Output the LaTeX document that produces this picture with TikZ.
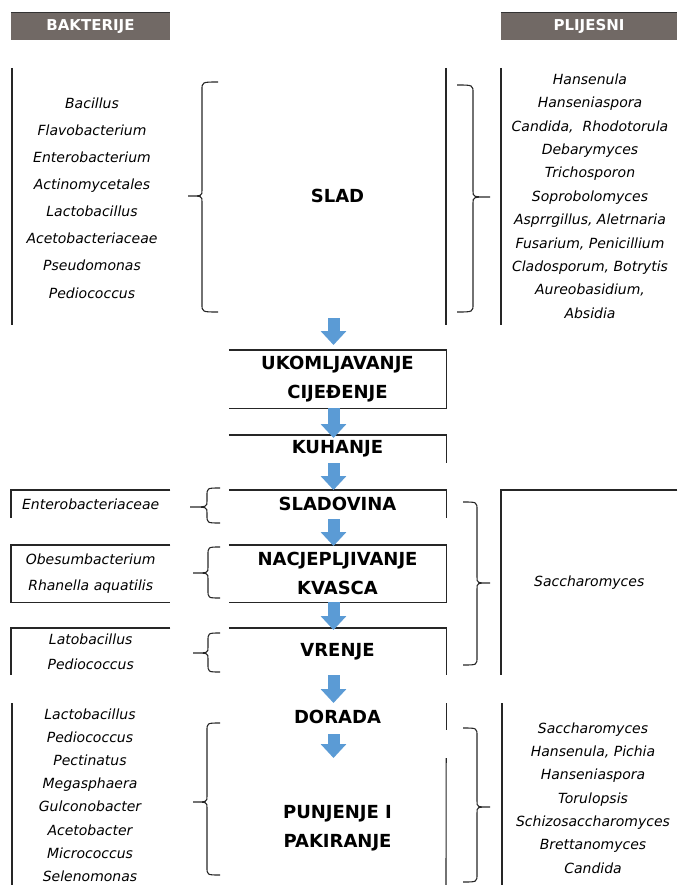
\documentclass[tikz,border=0pt]{standalone}
\usepackage{fontspec}
\setmainfont{DejaVu Sans}
\usetikzlibrary{arrows.meta}

\definecolor{strelica}{RGB}{91,155,213}
\definecolor{zaglavlje}{RGB}{113,105,101}

\tikzset{
	faza/.style={inner sep=0pt, minimum width=217, align=center, font=\fontsize{18}{29}\selectfont\bfseries},
	popis/.style={inner sep=0pt, align=center, font=\fontsize{14}{#1}\selectfont\itshape},
	popis/.default=23.4,
	crta/.style={line width=1.1pt, black!85},
	tok/.style={line width=12pt, strelica, -{Triangle[width=25pt,length=14pt]}},
	zagl/.style={fill=zaglavlje, text=white, inner sep=0pt, font=\fontsize{15}{18}\selectfont\bfseries},
}

% zagrada: kraj, tijelo, vrh, gore, sredina, dolje
\newcommand{\zagrada}[6]{%
	\draw[crta] (#1,#4) .. controls (#2,#4) .. (#2,#4+8) -- (#2,#5-6)
		.. controls (#2,#5) .. (#3,#5) .. controls (#2,#5) .. (#2,#5+6)
		-- (#2,#6-8) .. controls (#2,#6) .. (#1,#6);}

\begin{document}
\begin{tikzpicture}[x=1pt,y=-1pt]
\useasboundingbox (0,0) rectangle (677,885);

% ZAGLAVLJA
\node[zagl, minimum width=159, minimum height=27] (bak) at (90.5,26.5) {BAKTERIJE};
\node[zagl, minimum width=176, minimum height=27] (plj) at (589,26.5) {PLIJESNI};
\draw[line width=1.3pt, black!80] (bak.north west) -- (bak.north east);
\draw[line width=1.3pt, black!80] (plj.north west) -- (plj.north east);

% SLAD
\node[faza, minimum height=244] (slad) at (337.5,196) {SLAD};
\node[popis=27.1] (bakSlad) at (92,198) {Bacillus\\Flavobacterium\\Enterobacterium\\Actinomycetales\\Lactobacillus\\Acetobacteriaceae\\Pseudomonas\\Pediococcus};
\node[popis] (pljSlad) at (590,196) {Hansenula\\Hanseniaspora\\Candida, \ Rhodotorula\\Debarymyces\\Trichosporon\\Soprobolomyces\\Asprrgillus, Aletrnaria\\Fusarium, Penicillium\\Cladosporum, Botrytis\\Aureobasidium,\\Absidia};
\draw[crta] (12,68) -- (12,325);
\draw[crta] (446,68) -- (446,325);
\draw[crta] (501,68) -- (501,325);
\zagrada{218}{202}{188}{82}{196}{312}
\zagrada{457}{473}{490}{85}{197}{312}

% UKOMLJAVANJE, KUHANJE
\node[faza, minimum height=58, anchor=north] (ukom) at (337.5,350) {UKOMLJAVANJE\\CIJEĐENJE};
\draw[crta] (ukom.north west) -- (ukom.north east) -- (ukom.south east) -- (ukom.south west);
\node[faza, minimum height=28, anchor=north] (kuh) at (337.5,435) {KUHANJE};
\draw[crta] (kuh.north west) -- (kuh.north east) -- (kuh.south east);

% SLADOVINA
\node[faza, minimum height=28, anchor=north] (sladov) at (337.5,490) {SLADOVINA};
\draw[crta] (sladov.north west) -- (sladov.north east) -- (sladov.south east);
\node[popis, minimum width=159, minimum height=28, anchor=north west] (ent) at (11,490) {Enterobacteriaceae};
\draw[crta] (ent.north east) -- (ent.north west) -- (ent.south west);
\zagrada{220}{207}{190}{488}{507}{523}

% NACJEPLJIVANJE
\node[faza, minimum height=57, anchor=north] (nacj) at (337.5,545) {NACJEPLJIVANJE\\KVASCA};
\draw[crta] (nacj.north west) -- (nacj.north east) -- (nacj.south east) -- (nacj.south west);
\node[popis=26, minimum width=159, minimum height=57, anchor=north west] (obes) at (11,545) {Obesumbacterium\\Rhanella aquatilis};
\draw[crta] (obes.north east) -- (obes.north west) -- (obes.south west) -- (obes.south east);
\zagrada{220}{208}{193}{547}{573}{598}

% VRENJE
\node[faza, minimum height=47, anchor=north] (vren) at (337.5,628) {VRENJE};
\draw[crta] (vren.north west) -- (vren.north east) -- (vren.south east);
\node[popis=25, minimum width=159, minimum height=47, anchor=north west] (lato) at (11,628) {Latobacillus\\Pediococcus};
\draw[crta] (lato.north east) -- (lato.north west) -- (lato.south west);
\zagrada{220}{208}{193}{633}{653}{672}

% SACCHAROMYCES
\node[popis, minimum width=176, minimum height=185, anchor=north west] (sacch) at (501,490) {Saccharomyces};
\draw[crta] (sacch.north east) -- (sacch.north west) -- (sacch.south west);
\zagrada{463}{477}{490}{502}{583}{665}

% DORADA, PUNJENJE
\node[faza, minimum height=27, anchor=north] (dor) at (337.5,703) {DORADA};
\draw[crta] (dor.north east) -- (dor.south east);
\node[faza, minimum height=140, anchor=north] (punj) at (337.5,758) {PUNJENJE I\\PAKIRANJE};
\draw[crta] (punj.north east) -- (446,885);
\node[popis=23.2] (bakPunj) at (90,795) {Lactobacillus\\Pediococcus\\Pectinatus\\Megasphaera\\Gulconobacter\\Acetobacter\\Micrococcus\\Selenomonas};
\node[popis=23.3] (pljPunj) at (593,798) {Saccharomyces\\Hansenula, Pichia\\Hanseniaspora\\Torulopsis\\Schizosaccharomyces\\Brettanomyces\\Candida};
\draw[crta] (12,703) -- (12,885);
\draw[crta] (502,703) -- (502,885);
\zagrada{220}{207}{193}{723}{802}{875}
\zagrada{463}{477}{490}{728}{807}{882}

% STRELICE
\draw[tok] ([xshift=-4]slad.south) -- ([xshift=-4,yshift=5]ukom.north);
\draw[tok] ([xshift=-4]ukom.south) -- ([xshift=-4,yshift=-3]kuh.north);
\draw[tok] ([xshift=-4]kuh.south) -- ([xshift=-4]sladov.north);
\draw[tok] ([xshift=-4,yshift=-1]sladov.south) -- ([xshift=-4,yshift=-1]nacj.north);
\draw[tok] ([xshift=-4]nacj.south) -- ([xshift=-4,yshift=-2]vren.north);
\draw[tok] ([xshift=-4]vren.south) -- ([xshift=-4]dor.north);
\draw[tok] ([xshift=-4,yshift=-4]dor.south) -- ([xshift=-4]punj.north);

\end{tikzpicture}
\end{document}
